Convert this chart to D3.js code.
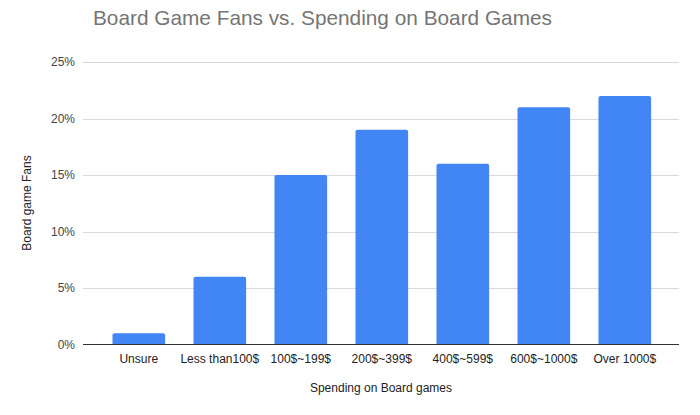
<!DOCTYPE html>
<html><head><meta charset="utf-8">
<script src="https://cdn.jsdelivr.net/npm/d3@7"></script>
<style>body{margin:0;background:#fff}svg{display:block;font-family:Arial,"Liberation Sans",sans-serif}</style>
</head><body>
<svg id="c" width="700" height="415"></svg>
<script>
const categories = ["Unsure","Less than100$","100$~199$","200$~399$","400$~599$","600$~1000$","Over 1000$"];
const values = [0.01,0.06,0.15,0.19,0.16,0.21,0.22];
const yTicks = [0,0.05,0.10,0.15,0.20,0.25];

const svg = d3.select("#c");
const axL = 83, axR = 679;
const x = d3.scaleBand().domain(categories).range([98.3,665.3]).paddingInner(0.35).paddingOuter(0.175);
const y = d3.scaleLinear().domain([0,0.25]).range([344.5,62]);

svg.append("text").attr("x",93).attr("y",25).attr("font-size",20.8).attr("fill","#757575")
  .text("Board Game Fans vs. Spending on Board Games");

// grid
svg.append("g").selectAll("line").data(yTicks.filter(d=>d>0)).join("line")
  .attr("x1",axL).attr("x2",axR).attr("y1",d=>Math.round(y(d))+0.5).attr("y2",d=>Math.round(y(d))+0.5)
  .attr("stroke","#d9d9d9").attr("stroke-width",1);

const yAxis = svg.append("g").attr("transform",`translate(${axL},0)`)
  .call(d3.axisLeft(y).tickValues(yTicks).tickFormat(d3.format(".0%")).tickSize(0).tickPadding(8));
yAxis.select(".domain").remove();
yAxis.selectAll("text").attr("font-size",12).attr("fill","#444").attr("font-family","Arial,'Liberation Sans',sans-serif");

// bars
const r = 2;
svg.append("g").selectAll("path").data(values).join("path")
  .attr("d",(d,i)=>{
    const x0 = x(categories[i]), w = x.bandwidth(), y0 = y(d), yb = y(0);
    return `M${x0},${yb}V${y0+r}Q${x0},${y0} ${x0+r},${y0}H${x0+w-r}Q${x0+w},${y0} ${x0+w},${y0+r}V${yb}Z`;
  })
  .attr("fill","#4285f4");

// x axis
const xAxis = svg.append("g").attr("transform",`translate(0,${y(0)})`)
  .call(d3.axisBottom(x).tickSize(0).tickPadding(10));
xAxis.select(".domain").remove();
xAxis.selectAll("text").attr("font-size",12).attr("fill","#222").attr("font-family","Arial,'Liberation Sans',sans-serif");
svg.append("line").attr("x1",axL).attr("x2",axR).attr("y1",344.5).attr("y2",344.5).attr("stroke","#333").attr("stroke-width",1);

svg.append("text").attr("x",(axL+axR)/2).attr("y",392).attr("text-anchor","middle").attr("font-size",12).attr("fill","#222")
  .text("Spending on Board games");
svg.append("text").attr("transform","translate(31,203) rotate(-90)").attr("text-anchor","middle").attr("font-size",12).attr("fill","#222")
  .text("Board game Fans");
</script>
</body></html>
